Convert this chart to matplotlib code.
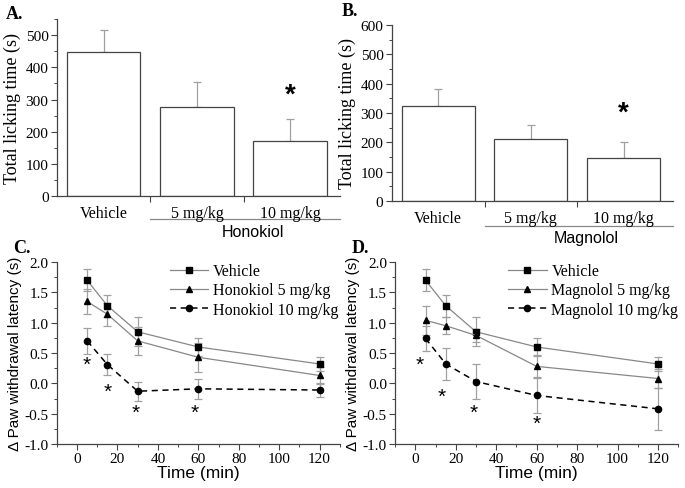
import numpy as np
import matplotlib
matplotlib.use('Agg')
import matplotlib.pyplot as plt
from matplotlib.ticker import MultipleLocator

SERIF = 'Liberation Serif'
SANS = 'Liberation Sans'
plt.rcParams['font.family'] = SERIF

# bar panels
groups = ['Vehicle', '5 mg/kg', '10 mg/kg']
hono_mean = [447, 278, 170]
hono_err = [70, 77, 68]
hono_star = 315
magn_mean = [325, 212, 145]
magn_err = [58, 48, 57]
magn_star = 300

# time course panels
times = [5, 15, 30, 60, 120]
veh = [1.70, 1.28, 0.85, 0.60, 0.32]
veh_err = [0.18, 0.18, 0.24, 0.15, 0.11]
hono5 = [1.35, 1.14, 0.70, 0.43, 0.13]
hono5_err = [0.21, 0.19, 0.23, 0.24, 0.14]
hono10 = [0.70, 0.31, -0.13, -0.09, -0.11]
hono10_err = [0.21, 0.17, 0.16, 0.17, 0.11]
magn5 = [1.04, 0.95, 0.79, 0.28, 0.08]
magn5_err = [0.24, 0.14, 0.11, 0.18, 0.15]
magn10 = [0.74, 0.32, 0.03, -0.20, -0.42]
magn10_err = [0.21, 0.27, 0.29, 0.29, 0.35]

star_c_x = [5, 15, 29, 58]
star_c_y = [0.32, -0.13, -0.48, -0.48]
star_d_x = [2, 13, 29, 60]
star_d_y = [0.32, -0.21, -0.47, -0.66]

fig = plt.figure(figsize=(6.85, 4.89), dpi=100)

def style(ax):
    for s in ['top', 'right']:
        ax.spines[s].set_visible(False)
    for s in ['left', 'bottom']:
        ax.spines[s].set_color('#444444')
        ax.spines[s].set_linewidth(0.9)
    ax.tick_params(direction='out', length=4, width=0.8, color='#444444', labelsize=11, pad=2)
    ax.tick_params(which='minor', direction='out', length=2.5, width=0.7, color='#444444')

def bar_panel(rect, means, errs, star_y, ymax, drug, label, lab_y, line_y, text_y):
    ax = fig.add_axes(rect)
    x = np.arange(len(groups))
    ax.bar(x, means, width=0.79, color='white', edgecolor='#444444', linewidth=0.9, zorder=2)
    ax.errorbar(x, means, yerr=[np.zeros(len(errs)), errs], fmt='none',
                ecolor='#a0a0a0', elinewidth=0.9, capsize=3, capthick=0.9, zorder=1)
    ax.text(x[2], star_y, '*', ha='center', va='center', fontsize=20,
            family=SANS, fontweight='bold')
    style(ax)
    ax.set_xlim(-0.5, 2.53)
    ax.set_ylim(0, ymax)
    ax.yaxis.set_major_locator(MultipleLocator(100))
    ax.yaxis.set_minor_locator(MultipleLocator(50))
    ax.set_xticks([0.5, 1.5])
    ax.set_xticklabels([])
    for xi, g in zip(x, groups):
        ax.text(xi, -0.05, g, transform=ax.get_xaxis_transform(), ha='center', va='top', fontsize=11.5)
    ax.set_ylabel('Total licking time (s)', fontsize=13, labelpad=3)
    ax.plot([0.5, 2.53], [line_y, line_y], transform=ax.get_xaxis_transform(),
            color='#888888', lw=0.9, clip_on=False)
    ax.text(1.6, text_y, drug, transform=ax.get_xaxis_transform(), ha='center', va='top',
            fontsize=11.5, family=SANS)
    ax.text(-0.18, lab_y, label, transform=ax.transAxes, fontsize=13, fontweight='bold', va='top')
    return ax

bar_panel([0.083, 0.597, 0.413, 0.362], hono_mean, hono_err, hono_star, 550, 'Honokiol', 'A.',
          1.08, -0.13, -0.155)
bar_panel([0.572, 0.587, 0.41, 0.36], magn_mean, magn_err, magn_star, 600, 'Magnolol', 'B.',
          1.13, -0.14, -0.165)

def line_panel(rect, s5, e5, s10, e10, drug, label, sx, sy):
    ax = fig.add_axes(rect)
    ekw = dict(ecolor='#a0a0a0', elinewidth=0.9, capsize=3, capthick=0.9)
    ax.errorbar(times, veh, yerr=veh_err, color='#888888', lw=0.9, marker='s', ms=4.5,
                mfc='black', mec='black', label='Vehicle', **ekw)
    ax.errorbar(times, s5, yerr=e5, color='#888888', lw=0.9, marker='^', ms=5,
                mfc='black', mec='black', label=drug + ' 5 mg/kg', **ekw)
    ax.errorbar(times, s10, yerr=e10, color='black', lw=1.1, ls=(0, (4, 3)), marker='o', ms=4.5,
                mfc='black', mec='black', label=drug + ' 10 mg/kg', **ekw)
    for a, b in zip(sx, sy):
        ax.text(a, b, '*', ha='center', va='center', fontsize=15, family=SANS)
    style(ax)
    ax.set_xlim(-10, 130)
    ax.set_ylim(-1.0, 2.0)
    ax.xaxis.set_major_locator(MultipleLocator(20))
    ax.xaxis.set_minor_locator(MultipleLocator(10))
    ax.yaxis.set_major_locator(MultipleLocator(0.5))
    ax.yaxis.set_minor_locator(MultipleLocator(0.25))
    ax.yaxis.set_major_formatter(plt.FuncFormatter(lambda v, p: '%.1f' % v))
    ax.set_xlabel('Time (min)', fontsize=12.5, family=SANS, labelpad=0)
    ax.set_ylabel('\u0394 Paw withdrawal latency (s)', fontsize=11, family=SANS, labelpad=2)
    h, l = ax.get_legend_handles_labels()
    h = [hh[0] for hh in h]
    ax.legend(h, l, loc='upper left', bbox_to_anchor=(0.36, 1.055), frameon=False,
              fontsize=11.5, handlelength=2.4, handletextpad=0.3, labelspacing=0.2,
              borderpad=0.2)
    ax.text(-0.155, 1.125, label, transform=ax.transAxes, fontsize=13, fontweight='bold', va='top')
    return ax

line_panel([0.083, 0.090, 0.413, 0.372], hono5, hono5_err, hono10, hono10_err, 'Honokiol', 'C.',
           star_c_x, star_c_y)
line_panel([0.577, 0.090, 0.413, 0.372], magn5, magn5_err, magn10, magn10_err, 'Magnolol', 'D.',
           star_d_x, star_d_y)

fig.savefig('out.png', dpi=100)
